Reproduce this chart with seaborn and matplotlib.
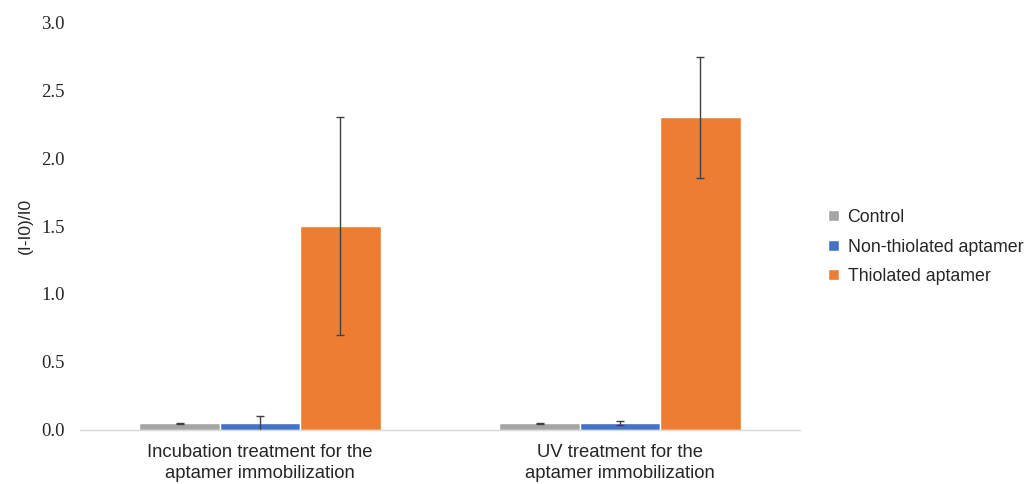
import numpy as np
import pandas as pd
import matplotlib
matplotlib.use("Agg")
import matplotlib.pyplot as plt
import seaborn as sns

groups = ["Incubation treatment for the\naptamer immobilization",
          "UV treatment for the\naptamer immobilization"]
series = ["Control", "Non-thiolated aptamer", "Thiolated aptamer"]
control = [0.05, 0.05]
non_thiolated = [0.05, 0.05]
thiolated = [1.50, 2.30]
control_err = [0.003, 0.003]
non_thiolated_err = [0.055, 0.015]
thiolated_err = [0.80, 0.445]
colors = ["#a5a5a5", "#4472c4", "#ed7d31"]

df = pd.DataFrame({
    "group": groups * 3,
    "series": np.repeat(series, 2),
    "value": control + non_thiolated + thiolated,
    "err": control_err + non_thiolated_err + thiolated_err,
})

sns.set_style("white")
fig = plt.figure(figsize=(10.29, 4.84), dpi=100)
ax = fig.add_axes([80 / 1029, 54 / 484, 720 / 1029, 408 / 484])

sns.barplot(data=df, x="group", y="value", hue="series", hue_order=series,
            order=groups, palette=colors, width=0.67, errorbar=None,
            saturation=1, ax=ax)

# error bars on top of each bar
for cont, s in zip(ax.containers, series):
    sub = df[df["series"] == s].set_index("group").loc[groups]
    xs = [p.get_x() + p.get_width() / 2 for p in cont.patches]
    ax.errorbar(xs, sub["value"], yerr=sub["err"], fmt="none",
                ecolor="#404040", elinewidth=1, capsize=3, capthick=1)

ax.set_ylim(0, 3.0)
ax.set_xlim(-0.5, 1.5)
ax.set_yticks(np.arange(0, 3.01, 0.5))
ax.set_yticklabels([f"{v:.1f}" for v in np.arange(0, 3.01, 0.5)],
                   family="Liberation Serif", fontsize=13.5)
for lab in ax.get_xticklabels():
    lab.set_family("Liberation Sans")
    lab.set_fontsize(13.3)
    lab.set_linespacing(1.3)
ax.tick_params(axis="both", length=0)
ax.tick_params(axis="y", pad=11)
ax.tick_params(axis="x", pad=10)
ax.set_xlabel("")
ax.set_ylabel("(I-I0)/I0", family="Liberation Sans", fontsize=12.5)
ax.yaxis.set_label_coords(-80 / 720 + 33 / 720, 0.5)
for side in ["left", "right", "top"]:
    ax.spines[side].set_visible(False)
ax.spines["bottom"].set_color("#d9d9d9")
ax.spines["bottom"].set_linewidth(1)

ax.legend(loc="center left", bbox_to_anchor=(812 / 1029, (484 - 247) / 484),
          bbox_transform=fig.transFigure, frameon=False,
          prop={"family": "Liberation Sans", "size": 12.8},
          handlelength=0.6, handleheight=0.6, handletextpad=0.5,
          labelspacing=0.7)

fig.savefig("out.png", dpi=100)
